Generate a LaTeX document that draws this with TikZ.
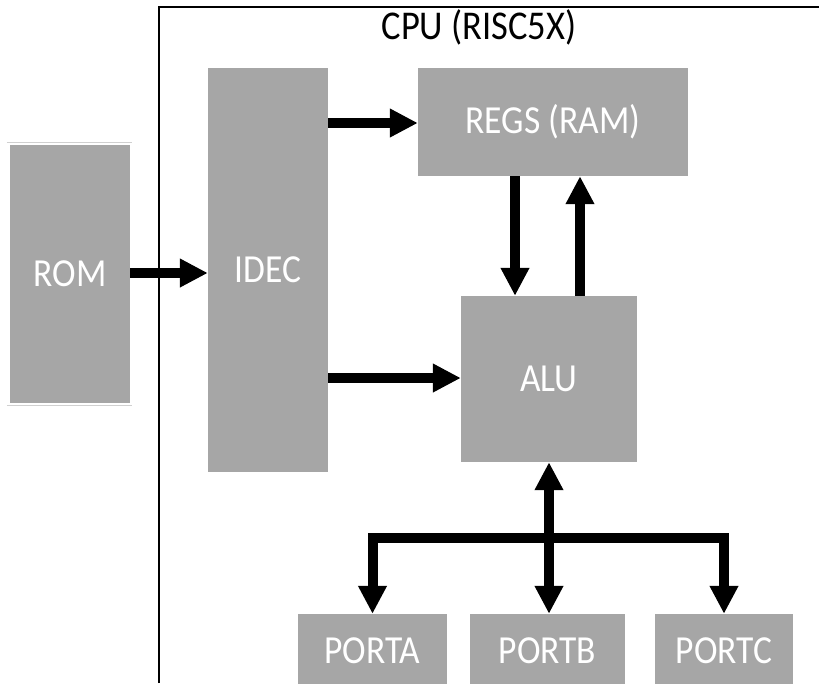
\documentclass[tikz,border=0pt]{standalone}
\usepackage{graphicx}
\usepackage{fontspec}
\setmainfont{Carlito}
\usetikzlibrary{arrows.meta}
\definecolor{boxgray}{HTML}{A6A6A6}
\definecolor{edgegray}{HTML}{D0D0D0}
\newcommand{\talltext}[1]{\scalebox{1}[1.12]{#1}}
\tikzset{
  blk/.style={fill=boxgray, draw=none, inner sep=0pt, text=white,
    font=\fontsize{35.5}{40}\selectfont},
  arr/.style={line width=10pt, -{Triangle[width=27pt,length=28pt]}, line join=miter},
  arrboth/.style={line width=10pt, {Triangle[width=27pt,length=28pt]}-{Triangle[width=27pt,length=28pt]}},
  frame/.style={line width=2pt}
}
\begin{document}
\begin{tikzpicture}[x=1pt,y=-1pt]
\useasboundingbox (0,0) rectangle (819,683);
\fill[white] (0,0) rectangle (819,683);
% CPU frame
\coordinate (fbl) at (159,683);
\coordinate (ftl) at (159,7);
\coordinate (ftr) at (819,7);
\draw[frame] (fbl) -- (ftl) -- (ftr);
\node[anchor=base, inner sep=0pt, font=\fontsize{36.5}{40}\selectfont] (title) at (479,39) {\talltext{CPU (RISC5X)}};
% ROM
\node[blk, minimum width=120pt, minimum height=258pt] (rom) at (70,274) {\talltext{ROM}};
\draw[edgegray, line width=1pt] ([xshift=-3pt,yshift=2pt]rom.north west) -- ([xshift=2pt,yshift=2pt]rom.north east);
\draw[edgegray, line width=1pt] ([xshift=-3pt,yshift=-2pt]rom.south west) -- ([xshift=2pt,yshift=-2pt]rom.south east);
% IDEC
\node[blk, minimum width=120pt, minimum height=404pt] (idec) at (268,270) {\talltext{IDEC}};
% REGS
\node[blk, minimum width=270pt, minimum height=108pt] (regs) at (553,122) {\talltext{REGS (RAM)}};
% ALU
\node[blk, minimum width=176pt, minimum height=166pt] (alu) at (549,379) {\talltext{ALU}};
% Ports
\node[blk, minimum width=149pt, minimum height=74pt] (porta) at (372.5,651) {\talltext{PORTA}};
\node[blk, minimum width=155pt, minimum height=74pt] (portb) at (547.5,651) {\talltext{PORTB}};
\node[blk, minimum width=138pt, minimum height=74pt] (portc) at (724,651) {\talltext{PORTC}};
% connectors
\draw[arr] (rom.east |- 0,273) -- (idec.west |- 0,273);
\draw[arr] (idec.east |- 0,123) -- (regs.west |- 0,123);
\draw[arr] (idec.east |- 0,378) -- (alu.west |- 0,378);
\draw[arr] ([xshift=-34pt]alu.north |- regs.south) -- ([xshift=-34pt]alu.north);
\draw[arr] ([xshift=31pt]alu.north) -- ([xshift=31pt]alu.north |- regs.south);
\draw[arrboth] (alu.south) -- (alu.south |- portb.north);
\coordinate (bus) at (549,538);
\draw[arr] (bus) -| (porta.north);
\draw[arr] (bus) -| (portc.north);
\end{tikzpicture}
\end{document}
